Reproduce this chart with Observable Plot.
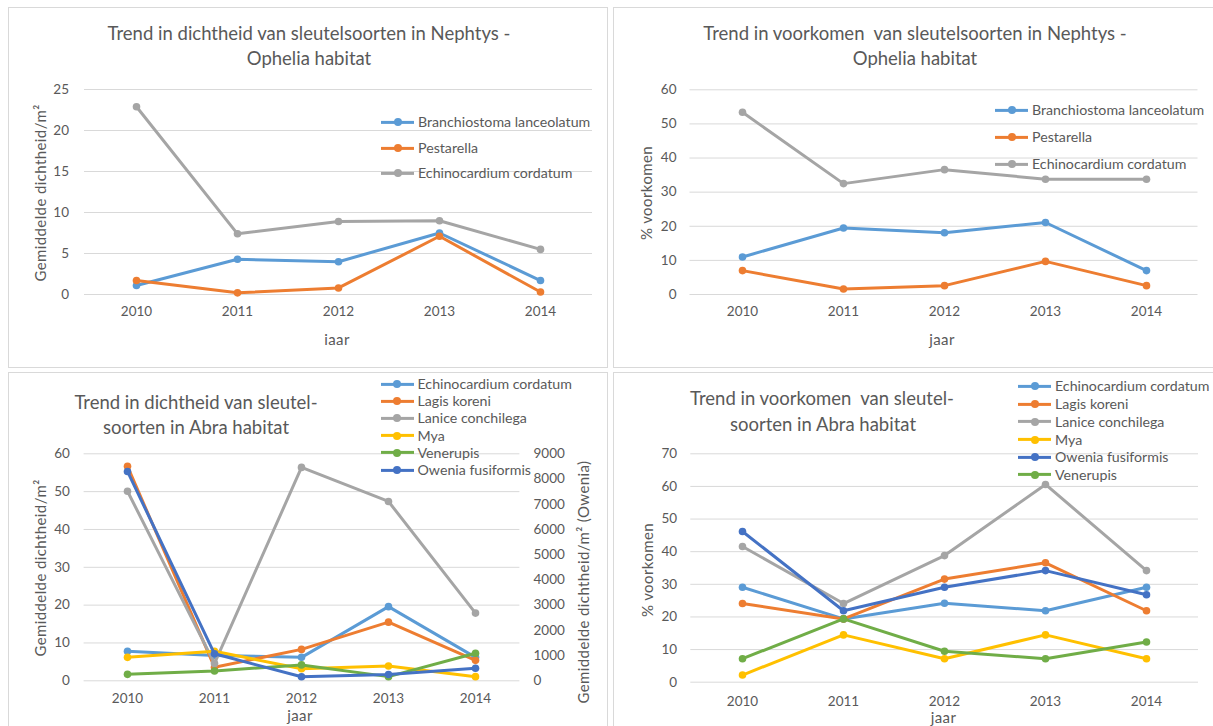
<!DOCTYPE html>
<html><head><meta charset="utf-8">
<script src="https://cdn.jsdelivr.net/npm/d3@7"></script>
<script src="https://cdn.jsdelivr.net/npm/@observablehq/plot@0.6"></script>
<style>
body{margin:0;background:#fff;font-family:Lato,"Open Sans",sans-serif;color:#595959;}
#root{position:relative;width:1213px;height:726px;overflow:hidden;background:#fff;}
.box{position:absolute;border:1px solid #D9D9D9;box-sizing:border-box;}
.t{position:absolute;white-space:pre;line-height:1;}
.title{font-size:18.5px;transform:translate(-50%,-50%);}
.ylab{font-size:15px;letter-spacing:0.4px;transform:translate(-50%,-50%) rotate(-90deg);}
.xlab{font-size:15px;letter-spacing:0.4px;transform:translate(-50%,-50%);}
.leg{position:absolute;font-size:14.2px;white-space:pre;display:flex;align-items:center;transform:translateY(-50%);line-height:1;}
.sw{position:relative;width:33px;height:3px;margin-right:4px;flex:none;}
.dot{position:absolute;left:50%;top:50%;width:8px;height:8px;border-radius:50%;transform:translate(-50%,-50%);}
.plot{position:absolute;}
</style></head>
<body><div id="root"></div>
<script>
// ---------- data ----------
const years = [2010, 2011, 2012, 2013, 2014];

// Panel 1: dichtheid Nephtys - Ophelia
const p1Names  = ["Branchiostoma lanceolatum", "Pestarella", "Echinocardium cordatum"];
const p1Branch = [1.1, 4.3, 4.0, 7.5, 1.7];
const p1Pest   = [1.7, 0.2, 0.8, 7.1, 0.3];
const p1Echino = [22.9, 7.4, 8.9, 9.0, 5.5];
const p1Ticks  = [0, 5, 10, 15, 20, 25];

// Panel 2: voorkomen Nephtys - Ophelia
const p2Names  = ["Branchiostoma lanceolatum", "Pestarella", "Echinocardium cordatum"];
const p2Branch = [11.0, 19.5, 18.1, 21.1, 7.0];
const p2Pest   = [7.0, 1.6, 2.6, 9.7, 2.6];
const p2Echino = [53.4, 32.5, 36.6, 33.8, 33.8];
const p2Ticks  = [0, 10, 20, 30, 40, 50, 60];

// Panel 3: dichtheid Abra (Owenia on right axis)
const p3Names   = ["Echinocardium cordatum", "Lagis koreni", "Lanice conchilega", "Mya", "Venerupis", "Owenia fusiformis"];
const p3Echino  = [7.8, 6.7, 6.2, 19.6, 6.2];
const p3Lagis   = [56.7, 3.6, 8.3, 15.5, 5.4];
const p3Lanice  = [50.1, 4.6, 56.4, 47.4, 17.9];
const p3Mya     = [6.2, 7.8, 3.2, 3.9, 1.1];
const p3Vener   = [1.7, 2.6, 4.2, 1.1, 7.3];
const p3Owenia  = [8300, 1070, 160, 250, 500];
const p3Ticks   = [0, 10, 20, 30, 40, 50, 60];
const p3RTicks  = [0, 1000, 2000, 3000, 4000, 5000, 6000, 7000, 8000, 9000];

// Panel 4: voorkomen Abra
const p4Names   = ["Echinocardium cordatum", "Lagis koreni", "Lanice conchilega", "Mya", "Owenia fusiformis", "Venerupis"];
const p4Echino  = [29.1, 19.4, 24.2, 21.9, 29.1];
const p4Lagis   = [24.1, 19.4, 31.6, 36.6, 21.9];
const p4Lanice  = [41.6, 24.1, 38.8, 60.6, 34.2];
const p4Mya     = [2.2, 14.5, 7.2, 14.5, 7.2];
const p4Owenia  = [46.2, 21.9, 29.1, 34.2, 26.8];
const p4Vener   = [7.2, 19.4, 9.5, 7.2, 12.3];
const p4Ticks   = [0, 10, 20, 30, 40, 50, 60, 70];

const C = {blue:"#5B9BD5", orange:"#ED7D31", gray:"#A5A5A5", yellow:"#FFC000", dblue:"#4472C4", green:"#70AD47"};
const TXT = "#595959", GRID = "#D9D9D9";

// ---------- helpers ----------
const root = document.getElementById("root");
function el(cls, text, x, y, extra){
  const d = document.createElement("div");
  d.className = "t " + cls; d.textContent = text;
  d.style.left = x + "px"; d.style.top = y + "px";
  if (extra) Object.assign(d.style, extra);
  root.appendChild(d); return d;
}
function box(x, y, w, h){
  const d = document.createElement("div"); d.className = "box";
  Object.assign(d.style, {left:x+"px", top:y+"px", width:w+"px", height:h+"px"});
  root.appendChild(d);
}
function legend(items, x, ys){
  items.forEach((it, i) => {
    const d = document.createElement("div"); d.className = "leg";
    d.style.left = x + "px"; d.style.top = ys[i] + "px";
    const sw = document.createElement("div"); sw.className = "sw"; sw.style.background = it.color;
    const dt = document.createElement("div"); dt.className = "dot"; dt.style.background = it.color;
    sw.appendChild(dt); d.appendChild(sw);
    const s = document.createElement("span"); s.textContent = it.name; d.appendChild(s);
    root.appendChild(d);
  });
}
function rowsOf(series){
  return series.map(s => years.map((yr, i) => ({year: yr, value: s.values[i], name: s.name})));
}
function chart(o){
  const marks = [
    Plot.gridY({ticks: o.ticks, stroke: GRID, strokeOpacity: 1, strokeWidth: 1}),
    Plot.axisY({ticks: o.ticks, tickSize: 0, tickPadding: o.padY, label: null, fontSize: 13.5}),
    Plot.axisX({tickSize: 0, tickPadding: o.padX, label: null, fontSize: 13.5, tickFormat: d => String(d)})
  ];
  if (o.extraAxis) marks.push(o.extraAxis);
  rowsOf(o.series).forEach((rows, k) => {
    const s = o.series[k];
    const yacc = s.transform ? (d => s.transform(d.value)) : "value";
    marks.push(Plot.line(rows, {x: "year", y: yacc, stroke: s.color, strokeWidth: 3, strokeLinejoin: "round"}));
    marks.push(Plot.dot(rows, {x: "year", y: yacc, fill: s.color, r: 3.8}));
  });
  const svg = Plot.plot({
    width: o.width, height: o.height,
    marginLeft: o.ml, marginRight: o.mr, marginTop: o.mt, marginBottom: o.mb,
    style: {fontFamily: "Lato, sans-serif", fontSize: "13.5px", color: TXT, background: "transparent", overflow: "visible"},
    x: {type: "point", domain: years, padding: 0.5, label: null},
    y: {domain: o.domain, label: null},
    marks
  });
  svg.classList.add("plot");
  svg.style.left = o.left + "px"; svg.style.top = o.top + "px";
  root.appendChild(svg);
}

// ---------- boxes ----------
box(8, 7, 600, 361);
box(613, 7, 605, 361);
box(8, 372, 600, 360);
box(613, 372, 605, 360);

// ---------- panel 1 ----------
chart({left: 0, top: 0, width: 607, height: 366, ml: 84, mr: 15, mt: 89, mb: 72,
  domain: [0, 25], ticks: p1Ticks, padY: 15.5, padX: 12,
  series: [
    {name: p1Names[0], values: p1Branch, color: C.blue},
    {name: p1Names[1], values: p1Pest, color: C.orange},
    {name: p1Names[2], values: p1Echino, color: C.gray}
  ]});
el("title", "Trend in dichtheid van sleutelsoorten in Nephtys -", 309, 33);
el("title", "Ophelia habitat", 309, 58);
el("ylab", "Gemiddelde dichtheid/m²", 40, 193);
el("xlab", "iaar", 337, 339);
legend([{name: p1Names[0], color: C.blue}, {name: p1Names[1], color: C.orange}, {name: p1Names[2], color: C.gray}], 381, [122, 148, 173]);

// ---------- panel 2 ----------
chart({left: 607, top: 0, width: 606, height: 366, ml: 82.5, mr: 15.5, mt: 89.3, mb: 72,
  domain: [0, 60], ticks: p2Ticks, padY: 13.5, padX: 12,
  series: [
    {name: p2Names[0], values: p2Branch, color: C.blue},
    {name: p2Names[1], values: p2Pest, color: C.orange},
    {name: p2Names[2], values: p2Echino, color: C.gray}
  ]});
el("title", "Trend in voorkomen  van sleutelsoorten in Nephtys -", 915, 33);
el("title", "Ophelia habitat", 915, 58);
el("ylab", "% voorkomen", 646, 192.5);
el("xlab", "jaar", 942, 339);
legend([{name: p2Names[0], color: C.blue}, {name: p2Names[1], color: C.orange}, {name: p2Names[2], color: C.gray}], 995, [110, 137, 164]);

// ---------- panel 3 ----------
const oweniaFactor = p3RTicks[p3RTicks.length - 1] / p3Ticks[p3Ticks.length - 1];
chart({left: 0, top: 370, width: 607, height: 356, ml: 83.6, mr: 87.6, mt: 83.3, mb: 45.7,
  domain: [0, 60], ticks: p3Ticks, padY: 14.3, padX: 13,
  extraAxis: Plot.axisY({anchor: "right", ticks: p3RTicks.map(v => v / oweniaFactor),
    tickFormat: d => String(Math.round(d * oweniaFactor)), tickSize: 0, tickPadding: 13.6, label: null, fontSize: 13.5}),
  series: [
    {name: p3Names[0], values: p3Echino, color: C.blue},
    {name: p3Names[1], values: p3Lagis, color: C.orange},
    {name: p3Names[2], values: p3Lanice, color: C.gray},
    {name: p3Names[3], values: p3Mya, color: C.yellow},
    {name: p3Names[4], values: p3Vener, color: C.green},
    {name: p3Names[5], values: p3Owenia, color: C.dblue, transform: v => v / oweniaFactor}
  ]});
el("title", "Trend in dichtheid van sleutel-", 196, 401.7);
el("title", "soorten in Abra habitat", 196, 427.3);
el("ylab", "Gemiddelde dichtheid/m²", 40, 568);
el("ylab", "Gemiddelde dichtheid/m² (Owenia)", 582.5, 581.7);
el("xlab", "jaar", 300, 715);
legend([
  {name: p3Names[0], color: C.blue}, {name: p3Names[1], color: C.orange}, {name: p3Names[2], color: C.gray},
  {name: p3Names[3], color: C.yellow}, {name: p3Names[4], color: C.green}, {name: p3Names[5], color: C.dblue}
], 380.5, [384, 401.2, 418.3, 435.5, 452.6, 470]);

// ---------- panel 4 ----------
chart({left: 607, top: 370, width: 606, height: 356, ml: 83.3, mr: 15, mt: 83.3, mb: 44.3,
  domain: [0, 70], ticks: p4Ticks, padY: 13.6, padX: 14,
  series: [
    {name: p4Names[0], values: p4Echino, color: C.blue},
    {name: p4Names[1], values: p4Lagis, color: C.orange},
    {name: p4Names[2], values: p4Lanice, color: C.gray},
    {name: p4Names[3], values: p4Mya, color: C.yellow},
    {name: p4Names[4], values: p4Owenia, color: C.dblue},
    {name: p4Names[5], values: p4Vener, color: C.green}
  ]});
el("title", "Trend in voorkomen  van sleutel-", 822, 398.3);
el("title", "soorten in Abra habitat", 823, 424);
el("ylab", "% voorkomen", 647, 570);
el("xlab", "jaar", 943.5, 716.7);
legend([
  {name: p4Names[0], color: C.blue}, {name: p4Names[1], color: C.orange}, {name: p4Names[2], color: C.gray},
  {name: p4Names[3], color: C.yellow}, {name: p4Names[4], color: C.dblue}, {name: p4Names[5], color: C.green}
], 1018, [386, 404, 421.7, 439.5, 457.3, 474.7]);
</script>
</body></html>
